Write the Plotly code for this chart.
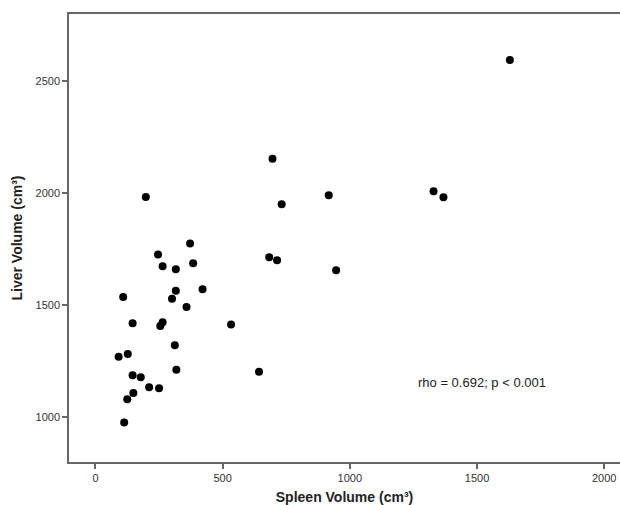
import plotly.graph_objects as go

spleen = [1629, 696, 732, 917, 1329, 1368, 683, 714, 946, 643, 533, 198,
          372, 246, 264, 316, 384, 316, 421, 301, 109, 358, 146, 264, 255,
          312, 91, 127, 318, 146, 178, 211, 250, 149, 125, 113]
liver = [2594, 2153, 1950, 1990, 2008, 1981, 1713, 1700, 1655, 1202, 1413, 1982,
         1775, 1725, 1673, 1659, 1686, 1564, 1570, 1528, 1536, 1491, 1418, 1423, 1406,
         1320, 1269, 1281, 1211, 1186, 1177, 1133, 1128, 1107, 1079, 975]
x_ticks = [0, 500, 1000, 1500, 2000]
y_ticks = [1000, 1500, 2000, 2500]
annotation_text = "rho = 0.692; p < 0.001"

fig = go.Figure()
fig.add_trace(go.Scatter(
    x=spleen, y=liver, mode="markers",
    marker=dict(color="black", size=8, line=dict(width=0)),
    showlegend=False,
))
fig.add_annotation(x=1259, y=1152, text=annotation_text, showarrow=False,
                   xanchor="left", yanchor="middle",
                   font=dict(family="Liberation Sans, Arial", size=13, color="#222"))

axis_common = dict(showline=True, linecolor="#666666", linewidth=1.5,
                   showgrid=False, zeroline=False, ticks="outside", ticklen=5,
                   tickcolor="#666666", tickwidth=1.5,
                   tickfont=dict(family="Liberation Sans, Arial", size=11, color="#333"))
fig.update_layout(
    width=620, height=505,
    margin=dict(l=69, r=0, t=14, b=43),
    plot_bgcolor="white", paper_bgcolor="white",
    xaxis=dict(range=[-104, 2062], tickvals=x_ticks, mirror=True, automargin=False,
               title=dict(text="<b>Spleen Volume (cm³)</b>",
                          font=dict(family="Liberation Sans, Arial", size=14, color="#222")),
               **axis_common),
    yaxis=dict(range=[799, 2799], tickvals=y_ticks, mirror=False, automargin=True,
               title=dict(text="<b>Liver Volume (cm³)</b>", standoff=10,
                          font=dict(family="Liberation Sans, Arial", size=14, color="#222")),
               **axis_common),
)
fig.write_html("out.html", config={"displayModeBar": False},
               post_script="document.body.style.margin='0px';document.body.style.overflow='hidden';")
